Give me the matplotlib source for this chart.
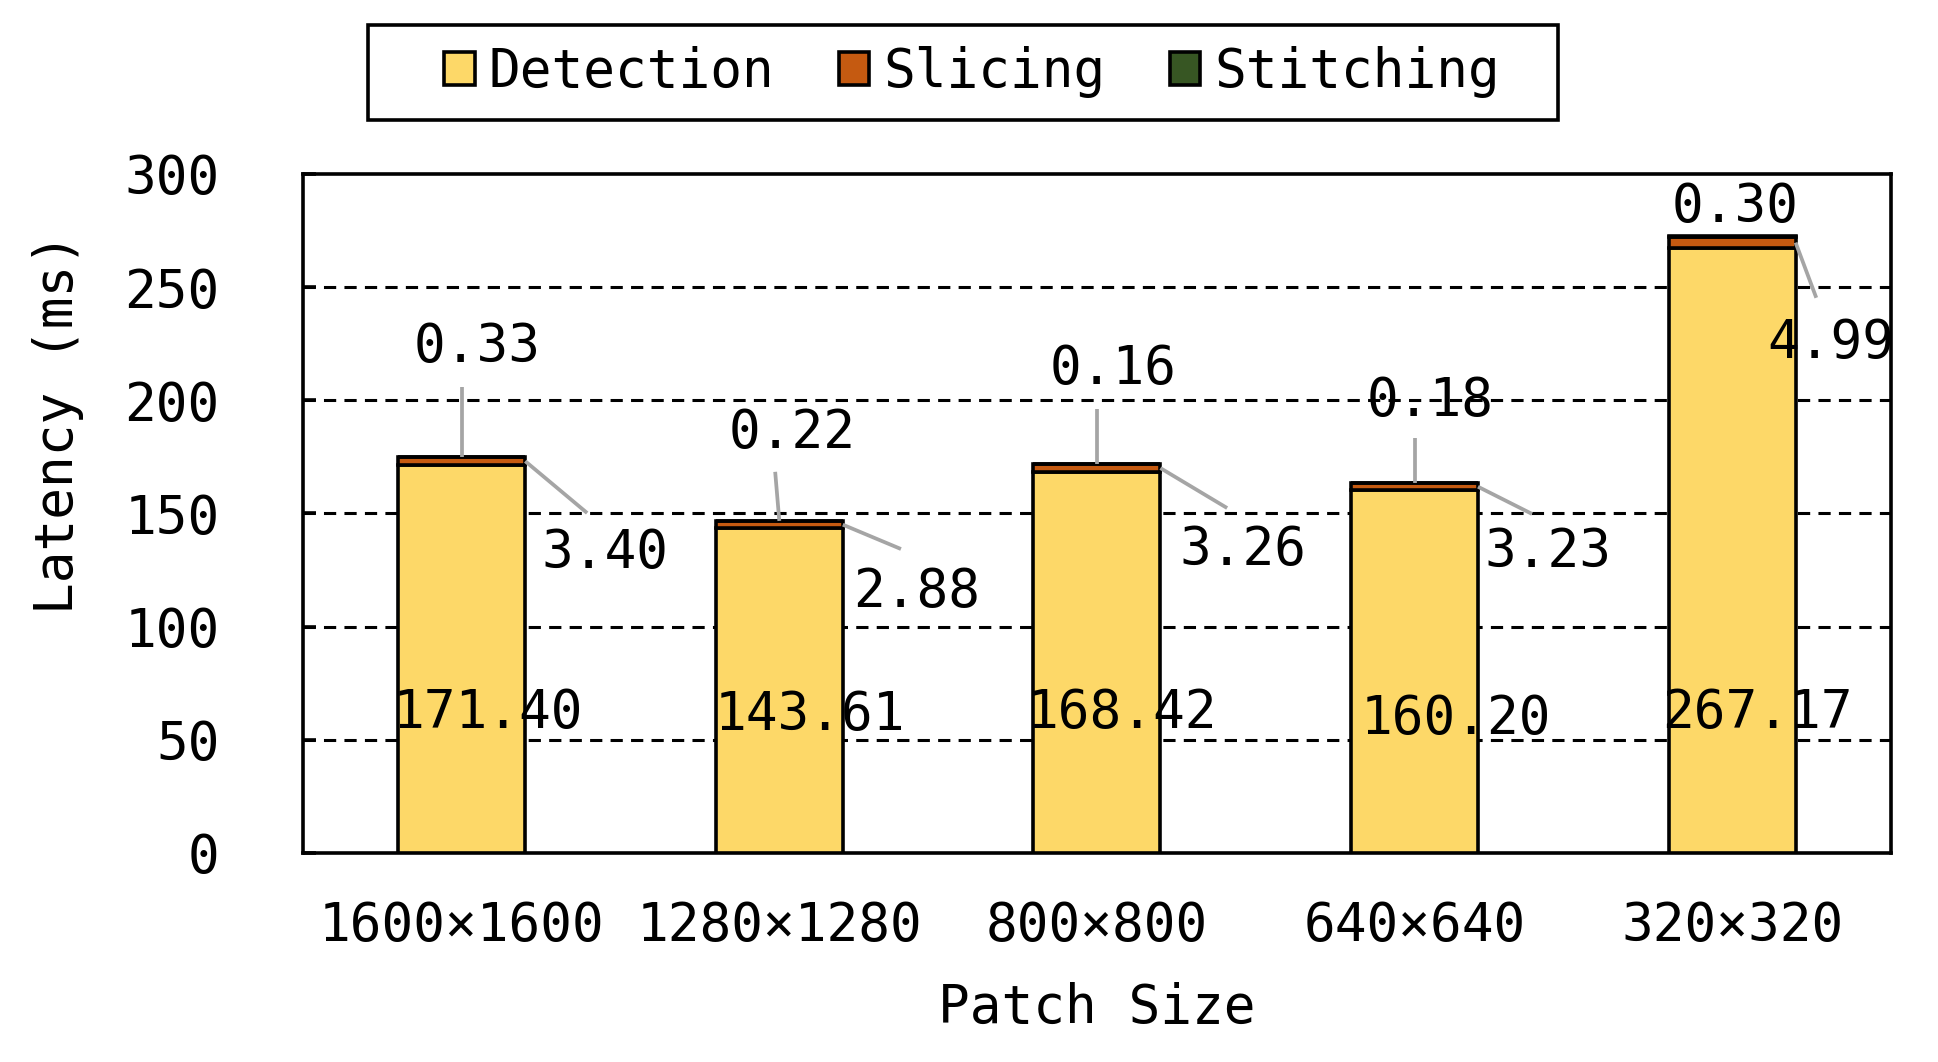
import numpy as np
import matplotlib
matplotlib.use('Agg')
import matplotlib.pyplot as plt
from matplotlib.patches import Rectangle

plt.rcParams['font.family'] = 'DejaVu Sans Mono'
plt.rcParams['font.size'] = 38

# data
patch_sizes = ['1600×1600', '1280×1280', '800×800', '640×640', '320×320']
detection = [171.40, 143.61, 168.42, 160.20, 267.17]
slicing = [3.40, 2.88, 3.26, 3.23, 4.99]
stitching = [0.33, 0.22, 0.16, 0.18, 0.30]

# label placement (offsets from bar centre in x, absolute y in data units)
det_lbl_dx = [0.083, 0.096, 0.08, 0.13, 0.08]
det_lbl_y = [61.8, 61.0, 61.8, 59.0, 61.8]
sli_end_dx = [0.395, 0.383, 0.41, 0.37, 0.265]
sli_end_y = [150.2, 134.3, 152.4, 149.8, 245.3]
sli_lbl_dx = [0.45, 0.433, 0.46, 0.42, 0.31]
sli_lbl_y = [132.6, 115.3, 133.9, 133.0, 225.5]
sti_end_dx = [0.0, -0.013, 0.0, 0.0, 0.0]
sti_end_y = [205.9, 168.4, 196.2, 183.4, None]
sti_lbl_dx = [0.05, 0.04, 0.05, 0.05, 0.01]
sti_lbl_y = [223.6, 185.6, 213.9, 199.7, 285.5]

c_det = '#FDD868'
c_sli = '#C55A11'
c_sti = '#375623'
c_lead = '#A5A5A5'
lw = 2.6

fig = plt.figure(figsize=(19.38, 10.62), dpi=100)
ax = fig.add_axes([0.1563, 0.1968, 0.8194, 0.6394])

x = np.arange(len(patch_sizes))
det = np.array(detection)
sli = np.array(slicing)
sti = np.array(stitching)
w = 0.4
b1 = ax.bar(x, det, w, color=c_det, edgecolor='black', linewidth=lw, zorder=3, label='Detection')
b2 = ax.bar(x, sli, w, bottom=det, color=c_sli, edgecolor='black', linewidth=lw, zorder=3, label='Slicing')
b3 = ax.bar(x, sti, w, bottom=det + sli, color=c_sti, edgecolor='black', linewidth=lw, zorder=3, label='Stitching')

for i in range(len(x)):
    # detection value inside bar
    ax.text(x[i] + det_lbl_dx[i], det_lbl_y[i], '%.2f' % det[i], ha='center', va='center', zorder=5)
    # slicing leader + label
    ax.plot([x[i] + w / 2, x[i] + sli_end_dx[i]], [det[i] + sli[i] / 2, sli_end_y[i]],
            color=c_lead, lw=2.7, zorder=4, solid_capstyle='butt')
    ax.text(x[i] + sli_lbl_dx[i], sli_lbl_y[i], '%.2f' % sli[i], ha='center', va='center', zorder=5)
    # stitching leader + label
    top = det[i] + sli[i] + sti[i]
    if sti_end_y[i] is not None:
        ax.plot([x[i], x[i] + sti_end_dx[i]], [top, sti_end_y[i]],
                color=c_lead, lw=2.7, zorder=4, solid_capstyle='butt')
    ax.text(x[i] + sti_lbl_dx[i], sti_lbl_y[i], '%.2f' % sti[i], ha='center', va='center', zorder=5)

ax.set_xlim(-0.5, 4.5)
ax.set_ylim(0, 300)
ax.set_yticks([0, 50, 100, 150, 200, 250, 300])
ax.set_xticks(x)
ax.set_xticklabels(patch_sizes)
ax.tick_params(axis='y', direction='in', length=9, width=lw, pad=60)
ax.tick_params(axis='x', length=0, pad=34)
for sp in ax.spines.values():
    sp.set_linewidth(lw)

for g in [50, 100, 150, 200, 250]:
    ax.axhline(g, color='black', lw=2.2, linestyle=(0, (4.0, 2.7)), zorder=1)

ax.set_xlabel('Patch Size')
ax.set_ylabel('Latency (ms)')
ax.xaxis.set_label_coords(0.5, -0.19)
ax.yaxis.set_label_coords(-0.138, 0.632)

fig.legend(handles=[b1, b2, b3], loc='center', bbox_to_anchor=(0.5015, 0.932), ncol=3,
           frameon=False, borderpad=0, handlelength=0.58, handleheight=0.58,
           handletextpad=0.26, columnspacing=1.22)
fig.patches.append(Rectangle((0.19, 0.887), 0.614, 0.0895, transform=fig.transFigure,
                             fill=False, edgecolor='black', lw=lw))

fig.savefig('out.png', dpi=100)
